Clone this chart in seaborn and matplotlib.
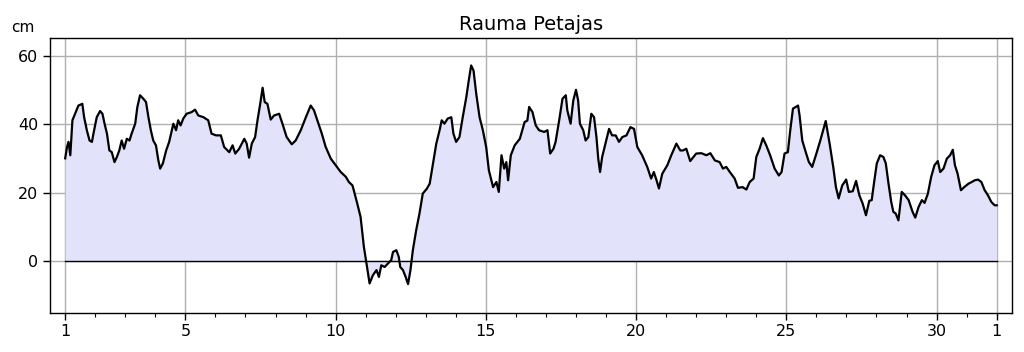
import numpy as np
import pandas as pd
import seaborn as sns
import matplotlib
matplotlib.use("Agg")
import matplotlib.pyplot as plt

# Sea level, Rauma Petajas (cm)
days = [
    1.00, 1.06, 1.11, 1.17, 1.24, 1.33, 1.44, 1.57, 1.63, 1.72, 1.81, 1.89, 1.94,
    2.05, 2.16, 2.24, 2.31, 2.39, 2.47, 2.55, 2.64, 2.72, 2.80, 2.88, 2.96,
    3.05, 3.14, 3.21, 3.33, 3.40, 3.49, 3.60, 3.69, 3.77, 3.85, 3.93,
    4.02, 4.10, 4.16, 4.25, 4.36, 4.46, 4.60, 4.69, 4.76, 4.84, 4.93,
    5.04, 5.21, 5.32, 5.43, 5.60, 5.76, 5.87,
    6.02, 6.18, 6.29, 6.46, 6.57, 6.66, 6.79, 6.96,
    7.04, 7.12, 7.21, 7.32, 7.40, 7.49, 7.57, 7.64, 7.73, 7.84, 7.95,
    8.12, 8.23, 8.37, 8.54, 8.67, 8.84,
    9.01, 9.17, 9.28, 9.39, 9.54, 9.67, 9.84,
    10.00, 10.17, 10.34, 10.44, 10.56, 10.61, 10.72, 10.83, 10.94,
    11.06, 11.13, 11.24, 11.36, 11.44, 11.52, 11.63, 11.74, 11.85, 11.91,
    12.02, 12.10, 12.15, 12.24, 12.33, 12.41, 12.49, 12.57, 12.68, 12.79, 12.90,
    13.04, 13.13, 13.24, 13.35, 13.46, 13.53, 13.62, 13.73, 13.85, 13.92,
    14.01, 14.12, 14.23, 14.35, 14.43, 14.51, 14.59, 14.68, 14.79, 14.90,
    15.01, 15.10, 15.24, 15.35, 15.43, 15.52, 15.61, 15.68, 15.74, 15.83, 15.96,
    16.13, 16.29, 16.38, 16.44, 16.55, 16.66, 16.77, 16.94,
    17.05, 17.14, 17.25, 17.32, 17.44, 17.55, 17.66, 17.71, 17.82, 17.91,
    18.00, 18.07, 18.13, 18.24, 18.32, 18.41, 18.51, 18.60, 18.68, 18.74, 18.80, 18.87, 18.98,
    19.10, 19.20, 19.32, 19.43, 19.54, 19.68, 19.81, 19.93,
    20.04, 20.20, 20.37, 20.50, 20.59, 20.68, 20.76, 20.87,
    21.04, 21.17, 21.34, 21.47, 21.56, 21.67, 21.80,
    22.00, 22.17, 22.34, 22.47, 22.62, 22.78, 22.89,
    23.00, 23.12, 23.28, 23.39, 23.54, 23.67, 23.78, 23.91,
    24.00, 24.11, 24.22, 24.33, 24.46, 24.61, 24.75, 24.84, 24.94,
    25.05, 25.13, 25.22, 25.39, 25.44, 25.53, 25.66, 25.75, 25.86,
    26.00, 26.13, 26.31, 26.44, 26.56, 26.65, 26.74, 26.86, 26.99,
    27.08, 27.21, 27.32, 27.43, 27.54, 27.65, 27.76, 27.84, 27.93,
    28.01, 28.12, 28.23, 28.31, 28.40, 28.49, 28.56, 28.64, 28.73, 28.84, 28.95,
    29.07, 29.20, 29.29, 29.40, 29.51, 29.60, 29.71, 29.82, 29.93,
    30.04, 30.12, 30.23, 30.34, 30.45, 30.54, 30.61, 30.70, 30.81, 30.92,
    31.06, 31.17, 31.27, 31.38, 31.49, 31.60, 31.71, 31.82, 31.93, 32.00,
]
levels = [
    30.0, 33.3, 34.8, 30.9, 41.1, 43.0, 45.4, 45.9, 42.0, 38.2, 35.2, 34.8, 37.2,
    42.0, 43.8, 43.0, 40.1, 37.2, 32.3, 31.8, 28.9, 30.4, 32.3, 35.2, 32.8,
    35.7, 35.2, 37.2, 40.1, 44.9, 48.4, 47.4, 46.4, 42.0, 38.2, 35.2,
    33.8, 29.4, 27.0, 28.5, 32.3, 34.8, 40.1, 38.2, 41.1, 39.6, 41.6,
    43.0, 43.5, 44.2, 42.5, 42.0, 41.1, 37.2,
    36.7, 36.7, 33.3, 31.8, 33.8, 31.4, 32.8, 35.7,
    34.3, 30.2, 34.3, 36.2, 41.1, 45.9, 50.6, 46.4, 45.9, 41.3, 42.5,
    43.0, 40.1, 36.2, 34.1, 35.2, 38.2,
    42.0, 45.4, 44.0, 41.1, 37.2, 33.3, 29.9,
    28.0, 26.0, 24.6, 23.1, 22.1, 20.5, 16.8, 12.9, 4.2,
    -2.6, -6.5, -4.1, -2.6, -4.6, -1.2, -1.7, -0.7, 0.3, 2.7,
    3.2, 1.3, -1.7, -2.6, -4.6, -6.7, -2.6, 3.2, 9.0, 13.9, 19.7,
    21.2, 22.6, 28.5, 34.3, 38.2, 41.1, 40.1, 41.6, 42.0, 37.2,
    34.8, 36.2, 42.0, 47.9, 52.7, 57.1, 55.6, 48.8, 42.0, 38.2,
    33.3, 26.5, 21.6, 23.1, 20.2, 30.9, 27.0, 28.9, 23.6, 30.9, 33.8,
    35.7, 40.6, 41.0, 45.0, 43.5, 39.6, 38.2, 37.7,
    38.2, 31.4, 32.8, 34.8, 41.1, 47.4, 48.4, 44.0, 40.1, 46.9,
    50.0, 46.9, 40.1, 38.2, 35.2, 36.2, 43.0, 42.0, 36.2, 29.9, 26.0, 30.4, 34.3,
    38.6, 36.7, 36.7, 34.8, 36.2, 36.7, 39.1, 38.6,
    33.3, 30.9, 27.5, 24.1, 26.0, 23.6, 21.2, 25.5,
    28.0, 30.9, 34.3, 32.3, 32.3, 32.8, 29.2,
    31.4, 31.5, 30.9, 31.5, 29.4, 28.9, 27.0,
    27.5, 26.0, 24.1, 21.4, 21.6, 20.9, 23.1, 24.1,
    30.4, 32.8, 35.9, 33.8, 30.9, 27.0, 25.0, 26.0, 31.4,
    31.8, 38.2, 44.5, 45.4, 42.5, 35.2, 31.4, 28.9, 27.5,
    31.4, 35.2, 40.9, 34.3, 27.5, 21.6, 18.3, 22.1, 23.8,
    20.2, 20.4, 23.4, 19.2, 16.8, 13.4, 17.6, 17.8, 23.6,
    28.5, 30.9, 30.4, 28.5, 22.6, 17.3, 14.4, 13.9, 11.9, 20.2, 19.2,
    17.8, 14.4, 12.7, 15.8, 17.8, 17.0, 19.7, 24.6, 28.0,
    29.2, 26.0, 27.0, 29.9, 30.9, 32.5, 28.0, 25.5, 20.7, 21.6,
    22.6, 23.1, 23.6, 23.8, 23.1, 20.7, 19.2, 17.3, 16.3, 16.3,
]

major_ticks = [1, 5, 10, 15, 20, 25, 30, 32]
major_labels = ["1", "5", "10", "15", "20", "25", "30", "1"]
y_ticks = [0, 20, 40, 60]

df = pd.DataFrame({"day": days, "level": levels})

fig, ax = plt.subplots(figsize=(10.24, 3.52), dpi=100)
fig.subplots_adjust(left=0.049, right=0.988, top=0.891, bottom=0.112)

ax.fill_between(df["day"], 0, df["level"], color="#e2e2fa", lw=0, zorder=1)
# zero line only across the data span
sns.lineplot(x=[df["day"].iloc[0], df["day"].iloc[-1]], y=[0, 0], color="black",
             lw=1.0, ax=ax, zorder=2)
sns.lineplot(data=df, x="day", y="level", color="black", lw=1.6, ax=ax,
             estimator=None, sort=False, zorder=3)

ax.set_xlim(0.5, 32.5)
ax.set_ylim(-15, 65)
ax.set_xticks(major_ticks)
ax.set_xticklabels(major_labels)
ax.set_xticks(np.arange(2, 32), minor=True)
ax.set_yticks(y_ticks)
ax.tick_params(axis="both", which="major", labelsize=11.5, length=5, width=1)
ax.tick_params(axis="x", which="minor", length=3, width=0.8)
ax.grid(True, which="major", color="#b0b0b0", lw=1, zorder=0)
ax.set_axisbelow(True)
for s in ax.spines.values():
    s.set_color("black")
    s.set_linewidth(1)

ax.set_xlabel("")
ax.set_ylabel("")
ax.set_title("Rauma Petajas", fontsize=14, pad=6)
fig.text(0.022, 0.922, "cm", fontsize=11, ha="center", va="center")

plt.savefig("out.png", dpi=100)
